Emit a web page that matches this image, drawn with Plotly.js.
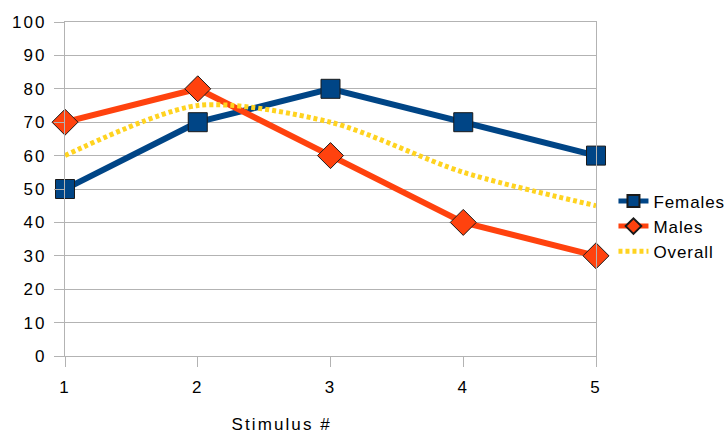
<!DOCTYPE html>
<html><head><meta charset="utf-8">
<script src="https://cdn.plot.ly/plotly-3.0.1.min.js"></script>
<style>html,body{margin:0;padding:0;background:#fff} #chart text{letter-spacing:2.1px} #chart .legend text{letter-spacing:0.9px}</style>
</head><body><div id="chart" style="width:726px;height:433px"></div>
<script>
var stimulus = [1, 2, 3, 4, 5];
var females = [50, 70, 80, 70, 60];
var males = [70, 80, 60, 40, 30];
var overall = [60, 75, 70, 55, 45];
var yTicks = [0,10,20,30,40,50,60,70,80,90,100];

var traces = [
  {x: stimulus, y: females, name: 'Females', type: 'scatter', mode: 'lines+markers', cliponaxis: false,
   line: {color: '#004586', width: 6},
   marker: {symbol: 'square', size: 19, color: '#004586', line: {color: '#1a1a1a', width: 1}}},
  {x: stimulus, y: males, name: 'Males', type: 'scatter', mode: 'lines+markers', cliponaxis: false,
   line: {color: '#ff420e', width: 6},
   marker: {symbol: 'diamond', size: 20, color: '#ff420e', line: {color: '#1a1a1a', width: 1}}},
  {x: stimulus, y: overall, name: 'Overall', type: 'scatter', mode: 'lines', cliponaxis: false,
   line: {color: '#ffd320', width: 5, dash: '4px,3px', shape: 'spline', smoothing: 0.8}}
];

var layout = {
  width: 726, height: 433,
  margin: {l: 65, r: 130, t: 22, b: 77, autoexpand: false},
  paper_bgcolor: '#fff', plot_bgcolor: '#fff',
  font: {family: 'Liberation Sans, Arial, sans-serif', size: 17, color: '#000'},
  showlegend: true,
  legend: {xref: 'container', yref: 'container', x: 0.845, y: 0.477, xanchor: 'left', yanchor: 'middle',
           font: {size: 17}, itemwidth: 30, itemsizing: 'constant', tracegroupgap: 0, bgcolor: 'rgba(0,0,0,0)'},
  xaxis: {range: [1, 5], tickvals: stimulus, ticktext: stimulus.map(String),
          showgrid: false,
          ticks: 'outside', ticklen: 10, tickcolor: '#b3b3b3', tickwidth: 1, ticklabelstandoff: 6,
          showline: true, linecolor: '#b3b3b3', mirror: true, zeroline: false,
          tickfont: {size: 17}},
  yaxis: {range: [0, 100], tickvals: yTicks, showgrid: true, gridcolor: '#b3b3b3', gridwidth: 1,
          ticks: 'outside', ticklen: 10, tickcolor: '#b3b3b3', tickwidth: 1, ticklabelstandoff: 4,
          showline: true, linecolor: '#b3b3b3', mirror: true, zeroline: false,
          tickfont: {size: 17}},
  annotations: [{text: 'Stimulus #', xref: 'paper', yref: 'paper', x: 0.409, y: -0.205,
                 xanchor: 'center', yanchor: 'middle', showarrow: false, font: {size: 17}}]
};
Plotly.newPlot('chart', traces, layout, {displayModeBar: false, staticPlot: true});
</script></body></html>
